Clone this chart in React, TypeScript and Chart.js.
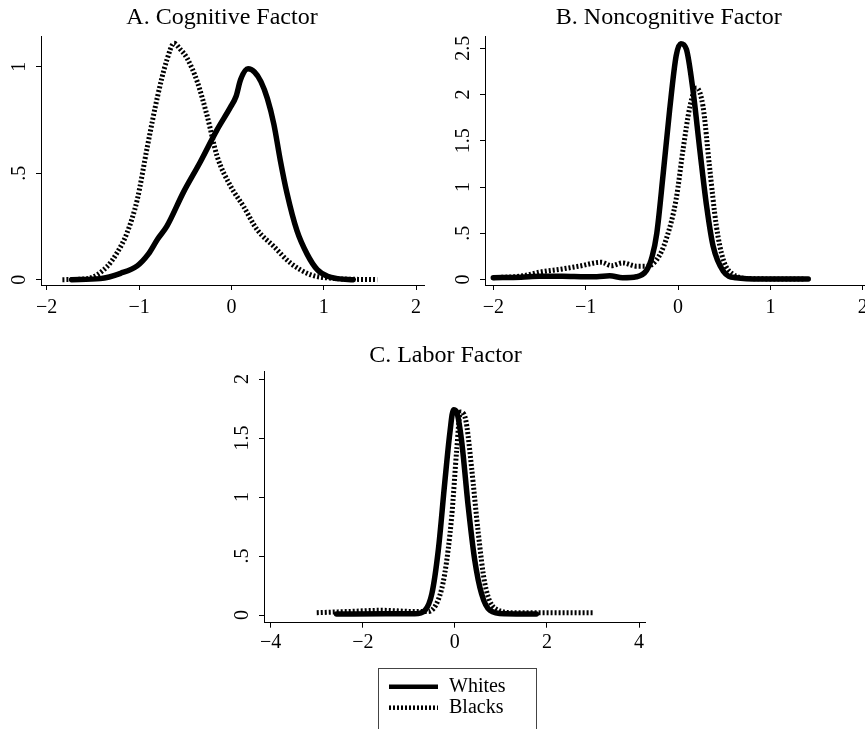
import React, { useEffect, useRef } from 'react';
import { Chart, registerables } from 'chart.js';

Chart.register(...registerables);

const SERIF = '"Liberation Serif", "Times New Roman", Times, serif';

// ---------- Panel A: Cognitive Factor ----------
const aWhitesX = [-1.73, -1.42, -1.2, -1.02, -0.9, -0.8, -0.7, -0.52, -0.34, -0.16, -0.01, 0.05, 0.1, 0.18, 0.25, 0.32, 0.39, 0.46, 0.53, 0.6, 0.71, 0.82, 0.93, 1.04, 1.15, 1.32];
const aWhitesY = [0, 0.005, 0.03, 0.065, 0.12, 0.19, 0.25, 0.41, 0.55, 0.7, 0.81, 0.86, 0.94, 0.99, 0.975, 0.93, 0.85, 0.73, 0.56, 0.41, 0.23, 0.12, 0.047, 0.016, 0.005, 0];
const aBlacksX = [-1.83, -1.56, -1.35, -1.24, -1.13, -1.02, -0.91, -0.8, -0.7, -0.62, -0.55, -0.48, -0.37, -0.26, -0.155, -0.01, 0.13, 0.28, 0.46, 0.64, 0.86, 1.11, 1.58];
const aBlacksY = [0, 0.005, 0.06, 0.125, 0.22, 0.375, 0.625, 0.86, 1.03, 1.11, 1.08, 1.04, 0.93, 0.765, 0.58, 0.44, 0.345, 0.234, 0.156, 0.078, 0.023, 0.006, 0];
const aXTicks = [-2, -1, 0, 1, 2];
const aXLabels = ['\u22122', '\u22121', '0', '1', '2'];
const aYTicks = [0, 0.5, 1];
const aYLabels = ['0', '.5', '1'];

// ---------- Panel B: Noncognitive Factor ----------
const bWhitesX = [-2.0, -1.7, -1.5, -1.25, -1.0, -0.88, -0.74, -0.6, -0.45, -0.34, -0.28, -0.23, -0.16, -0.09, -0.02, 0.03, 0.09, 0.16, 0.235, 0.31, 0.38, 0.49, 0.63, 0.9, 1.41];
const bWhitesY = [0.02, 0.025, 0.035, 0.035, 0.03, 0.03, 0.04, 0.02, 0.03, 0.1, 0.25, 0.5, 1.15, 1.84, 2.42, 2.55, 2.49, 2.06, 1.41, 0.79, 0.36, 0.09, 0.02, 0.005, 0.005];
const bBlacksX = [-2.0, -1.68, -1.5, -1.25, -1.07, -0.83, -0.72, -0.6, -0.45, -0.34, -0.23, -0.13, -0.02, 0.055, 0.13, 0.2, 0.27, 0.34, 0.415, 0.49, 0.6, 0.78, 1.38];
const bBlacksY = [0.02, 0.04, 0.08, 0.115, 0.145, 0.187, 0.15, 0.18, 0.145, 0.145, 0.215, 0.43, 0.87, 1.41, 1.875, 2.07, 1.875, 1.23, 0.58, 0.215, 0.054, 0.01, 0.005];
const bXTicks = [-2, -1, 0, 1, 2];
const bXLabels = ['\u22122', '\u22121', '0', '1', '2'];
const bYTicks = [0, 0.5, 1, 1.5, 2, 2.5];
const bYLabels = ['0', '.5', '1', '1.5', '2', '2.5'];

// ---------- Panel C: Labor Factor ----------
const cWhitesX = [-2.57, -1.5, -0.87, -0.65, -0.5, -0.36, -0.22, -0.11, -0.03, 0.04, 0.145, 0.29, 0.43, 0.58, 0.76, 1.09, 1.77];
const cWhitesY = [0.008, 0.01, 0.01, 0.04, 0.18, 0.55, 1.12, 1.54, 1.74, 1.72, 1.48, 0.92, 0.47, 0.18, 0.04, 0.01, 0.008];
const cBlacksX = [-3.0, -2.3, -1.6, -0.87, -0.58, -0.36, -0.22, -0.07, 0.04, 0.12, 0.2, 0.26, 0.36, 0.51, 0.65, 0.87, 1.3, 3.0];
const cBlacksY = [0.02, 0.03, 0.04, 0.03, 0.03, 0.13, 0.35, 0.83, 1.4, 1.72, 1.7, 1.6, 1.26, 0.69, 0.27, 0.057, 0.02, 0.02];
const cXTicks = [-4, -2, 0, 2, 4];
const cXLabels = ['\u22124', '\u22122', '0', '2', '4'];
const cYTicks = [0, 0.5, 1, 1.5, 2];
const cYLabels = ['0', '.5', '1', '1.5', '2'];

const seriesNames = ['Whites', 'Blacks'];

const zip = (xs: number[], ys: number[]) => xs.map((x, i) => ({ x, y: ys[i] }));

const rotYPlugin = {
  id: 'rotY',
  afterDraw(chart: any, _args: any, opts: any) {
    const scale = chart.scales.y;
    const ctx = chart.ctx;
    ctx.save();
    ctx.fillStyle = '#000';
    ctx.font = `${opts.size}px ${SERIF}`;
    ctx.textAlign = 'center';
    ctx.textBaseline = 'middle';
    const x = chart.chartArea.left - opts.offset;
    scale.ticks.forEach((t: any, i: number) => {
      const py = scale.getPixelForValue(t.value);
      ctx.save();
      ctx.translate(x, py);
      ctx.rotate(-Math.PI / 2);
      ctx.fillText(opts.labels[i] ?? '', 0, 0);
      ctx.restore();
    });
    ctx.restore();
  },
};

const boxLegendPlugin = {
  id: 'boxLegend',
  afterDraw(chart: any, _args: any, opts: any) {
    if (!opts || !opts.show) return;
    const ctx = chart.ctx;
    const { left, right, top, bottom } = opts.box;
    ctx.save();
    ctx.strokeStyle = '#444';
    ctx.lineWidth = 1;
    ctx.strokeRect(left + 0.5, top + 0.5, right - left, bottom - top);
    const items = chart.data.datasets;
    const order = [1, 0];
    order.forEach((di, k) => {
      const ds = items[di];
      const y = opts.firstY + k * opts.gap;
      ctx.beginPath();
      ctx.lineWidth = opts.lineWidth;
      ctx.strokeStyle = '#000';
      ctx.lineCap = 'butt';
      ctx.setLineDash(ds.borderDash || []);
      ctx.moveTo(opts.lineX1, y);
      ctx.lineTo(opts.lineX2, y);
      ctx.stroke();
      ctx.setLineDash([]);
      ctx.fillStyle = '#000';
      ctx.font = `${opts.size}px ${SERIF}`;
      ctx.textAlign = 'left';
      ctx.textBaseline = 'middle';
      ctx.fillText(ds.label, opts.textX, y);
    });
    ctx.restore();
  },
};

type Spec = {
  title: string;
  whitesX: number[]; whitesY: number[];
  blacksX: number[]; blacksY: number[];
  xMin: number; xMax: number; yMin: number; yMax: number;
  xTicks: number[]; xLabels: string[];
  yTicks: number[]; yLabels: string[];
  left: number; top: number; width: number; height: number;
  padL: number; padR: number; yW: number; xH: number;
  titleTop: number; titleBottom: number; xLabelPad: number;
  legend?: any;
};

function Panel({ spec }: { spec: Spec }) {
  const ref = useRef<HTMLCanvasElement | null>(null);
  useEffect(() => {
    if (!ref.current) return;
    const s = spec;
    const chart = new Chart(ref.current, {
      type: 'line',
      data: {
        datasets: [
          {
            label: seriesNames[1],
            data: zip(s.blacksX, s.blacksY),
            borderColor: '#000',
            borderWidth: 5,
            borderDash: [2, 2],
            borderCapStyle: 'butt',
            borderJoinStyle: 'round',
            pointRadius: 0,
            fill: false,
            cubicInterpolationMode: 'monotone',
          },
          {
            label: seriesNames[0],
            data: zip(s.whitesX, s.whitesY),
            borderColor: '#000',
            borderWidth: 5.5,
            borderCapStyle: 'round',
            borderJoinStyle: 'round',
            pointRadius: 0,
            fill: false,
            cubicInterpolationMode: 'monotone',
          },
        ],
      },
      options: {
        responsive: false,
        animation: false,
        events: [],
        layout: { padding: { left: s.padL, right: s.padR, top: 0, bottom: 0 } },
        scales: {
          x: {
            type: 'linear',
            min: s.xMin,
            max: s.xMax,
            afterBuildTicks: (sc: any) => { sc.ticks = s.xTicks.map((v) => ({ value: v })); },
            afterFit: (sc: any) => { sc.height = s.xH; },
            ticks: {
              autoSkip: false,
              maxRotation: 0,
              minRotation: 0,
              padding: s.xLabelPad,
              color: '#000',
              font: { family: SERIF, size: 20 },
              callback: (_v: any, i: number) => s.xLabels[i],
            },
            grid: { display: true, drawOnChartArea: false, drawTicks: true, tickLength: 5, tickColor: '#000', tickWidth: 1 },
            border: { display: true, color: '#000', width: 1 },
          },
          y: {
            type: 'linear',
            min: s.yMin,
            max: s.yMax,
            afterBuildTicks: (sc: any) => { sc.ticks = s.yTicks.map((v) => ({ value: v })); },
            afterFit: (sc: any) => { sc.width = s.yW; },
            ticks: { display: false },
            grid: { display: true, drawOnChartArea: false, drawTicks: true, tickLength: 5, tickColor: '#000', tickWidth: 1 },
            border: { display: true, color: '#000', width: 1 },
          },
        },
        plugins: {
          legend: { display: false },
          tooltip: { enabled: false },
          title: {
            display: true,
            text: s.title,
            color: '#000',
            font: { family: SERIF, size: 24, weight: 'normal', lineHeight: 1.2 },
            padding: { top: s.titleTop, bottom: s.titleBottom },
          },
          rotY: { labels: s.yLabels, offset: 21, size: 20 },
          boxLegend: s.legend || { show: false },
        } as any,
      },
      plugins: [rotYPlugin, boxLegendPlugin],
    } as any);
    return () => chart.destroy();
  }, [spec]);
  return (
    <canvas
      ref={ref}
      width={spec.width}
      height={spec.height}
      style={{ position: 'absolute', left: spec.left, top: spec.top, width: spec.width, height: spec.height }}
    />
  );
}

const specA: Spec = {
  title: 'A. Cognitive Factor',
  whitesX: aWhitesX, whitesY: aWhitesY, blacksX: aBlacksX, blacksY: aBlacksY,
  xMin: -2.062, xMax: 2.086, yMin: -0.025, yMax: 1.141,
  xTicks: aXTicks, xLabels: aXLabels, yTicks: aYTicks, yLabels: aYLabels,
  left: 0, top: 0, width: 444, height: 320,
  padL: 20, padR: 20, yW: 21, xH: 35,
  titleTop: 3.6, titleBottom: 4.3, xLabelPad: 6,
};

const specB: Spec = {
  title: 'B. Noncognitive Factor',
  whitesX: bWhitesX, whitesY: bWhitesY, blacksX: bBlacksX, blacksY: bBlacksY,
  xMin: -2.09, xMax: 2.057, yMin: -0.059, yMax: 2.625,
  xTicks: bXTicks, xLabels: bXLabels, yTicks: bYTicks, yLabels: bYLabels,
  left: 444, top: 0, width: 444, height: 320,
  padL: 25.6, padR: 20, yW: 15.4, xH: 35,
  titleTop: 3.6, titleBottom: 4.3, xLabelPad: 6,
};

const specC: Spec = {
  title: 'C. Labor Factor',
  whitesX: cWhitesX, whitesY: cWhitesY, blacksX: cBlacksX, blacksY: cBlacksY,
  xMin: -4.146, xMax: 4.13, yMin: -0.065, yMax: 2.062,
  xTicks: cXTicks, xLabels: cXLabels, yTicks: cYTicks, yLabels: cYLabels,
  left: 220, top: 320, width: 444, height: 409,
  padL: 26, padR: 19, yW: 18, xH: 106.3,
  titleTop: 21.6, titleBottom: 1.3, xLabelPad: 3,
  legend: {
    show: true,
    box: { left: 158, right: 316, top: 348, bottom: 420 },
    lineX1: 169, lineX2: 218, textX: 229,
    firstY: 366.7, gap: 21, lineWidth: 4.5, size: 20,
  },
};

export default function App() {
  return (
    <div style={{ position: 'absolute', left: 0, top: 0, width: 865, height: 729, overflow: 'hidden', background: '#fff' }}>
      <Panel spec={specA} />
      <Panel spec={specB} />
      <Panel spec={specC} />
    </div>
  );
}
